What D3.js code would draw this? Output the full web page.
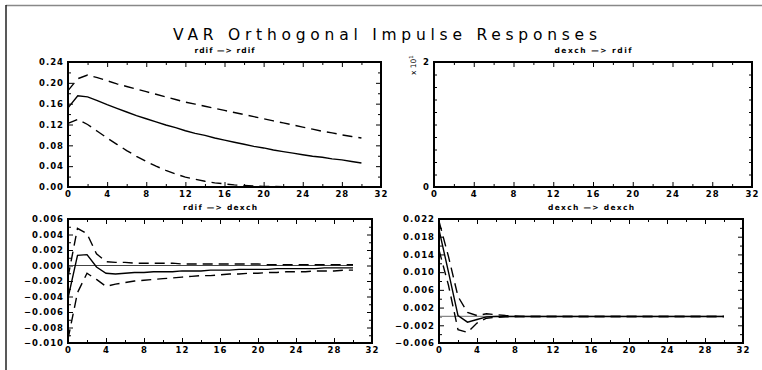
<!DOCTYPE html>
<html><head><meta charset="utf-8">
<script src="https://cdn.jsdelivr.net/npm/d3@7"></script>
<style>body{margin:0;background:#fff}svg{display:block}</style>
</head><body>
<svg id="c" width="762" height="370"></svg>
<script>
// ---------- data ----------
const title = "VAR Orthogonal Impulse Responses";
const panelTitles = ["rdif  \u2014>  rdif", "dexch  \u2014>  rdif", "rdif  \u2014>  dexch", "dexch  \u2014>  dexch"];
const steps = [0,1,2,3,4,5,6,7,8,9,10,11,12,13,14,15,16,17,18,19,20,21,22,23,24,25,26,27,28,29,30];
const xTicks = [0,4,8,12,16,20,24,28,32];

// rdif -> rdif
const rrMid = [0.152,0.175,0.173,0.166,0.158,0.151,0.144,0.137,0.131,0.125,0.119,0.114,0.108,0.103,0.099,0.094,0.090,0.086,0.082,0.078,0.075,0.071,0.068,0.065,0.062,0.059,0.057,0.054,0.052,0.049,0.046];
const rrUp  = [0.185,0.208,0.215,0.210,0.204,0.198,0.193,0.188,0.183,0.178,0.173,0.168,0.163,0.159,0.155,0.151,0.147,0.143,0.139,0.135,0.131,0.127,0.123,0.119,0.115,0.111,0.107,0.104,0.100,0.097,0.094];
const rrLo  = [0.122,0.130,0.120,0.107,0.094,0.082,0.070,0.059,0.049,0.040,0.032,0.025,0.019,0.015,0.011,0.008,0.006,0.004,0.003,0.002,0.001,0.001,0.0005,0.0003,0.0002,0.0001,0.0001,0,0,0,0];
const rrTicks = [0.00,0.04,0.08,0.12,0.16,0.20,0.24];

// dexch -> rdif (empty panel)
const drTicks = [0,2];

// rdif -> dexch
const rdMid = [-0.0042,0.0013,0.0014,-0.0002,-0.0010,-0.0011,-0.0010,-0.0009,-0.0009,-0.0008,-0.0008,-0.0008,-0.0007,-0.0007,-0.0007,-0.0006,-0.0006,-0.0006,-0.0005,-0.0005,-0.0005,-0.0005,-0.0004,-0.0004,-0.0004,-0.0004,-0.0004,-0.0003,-0.0003,-0.0003,-0.0003];
const rdUp  = [-0.0015,0.0048,0.0041,0.0015,0.0005,0.0004,0.0004,0.0003,0.0003,0.0003,0.0003,0.0003,0.0002,0.0002,0.0002,0.0002,0.0002,0.0002,0.0002,0.0002,0.0002,0.0001,0.0001,0.0001,0.0001,0.0001,0.0001,0.0001,0.0001,0.0001,0.0001];
const rdLo  = [-0.0095,-0.0035,-0.0010,-0.0018,-0.0027,-0.0024,-0.0022,-0.0020,-0.0019,-0.0018,-0.0017,-0.0016,-0.0015,-0.0014,-0.0013,-0.0013,-0.0012,-0.0011,-0.0011,-0.0010,-0.0010,-0.0009,-0.0009,-0.0008,-0.0008,-0.0008,-0.0007,-0.0007,-0.0007,-0.0006,-0.0006];
const rdTicks = [-0.010,-0.008,-0.006,-0.004,-0.002,0.000,0.002,0.004,0.006];

// dexch -> dexch
const ddMid = [0.0196,0.0100,0.0002,-0.0013,-0.0007,-0.0001,0.0000,0.0000,0.0000,0,0,0,0,0,0,0,0,0,0,0,0,0,0,0,0,0,0,0,0,0,0];
const ddUp  = [0.0215,0.0135,0.0045,0.0009,0.0002,0.0006,0.0004,0.0002,0.0001,0,0,0,0,0,0,0,0,0,0,0,0,0,0,0,0,0,0,0,0,0,0];
const ddLo  = [0.0150,0.0070,-0.0030,-0.0036,-0.0015,-0.0004,-0.0002,-0.0001,-0.0001,0,0,0,0,0,0,0,0,0,0,0,0,0,0,0,0,0,0,0,0,0,0];
const ddTicks = [-0.006,-0.002,0.002,0.006,0.010,0.014,0.018,0.022];

// ---------- layout ----------
const panels = [
  {title: panelTitles[0], tl:60, box:[68,381,62,187], dom:[0,0.24], ticks: rrTicks, fmt: d3.format(".2f"), minor:0.02, series:[rrMid,rrUp,rrLo], zero:false},
  {title: panelTitles[1], tl:77, box:[434,752,62,187], dom:[0,2], ticks: drTicks, fmt: d3.format("d"), minor:0.2, series:[], zero:false, exp:true},
  {title: panelTitles[2], tl:74, box:[68,372,219,343], dom:[-0.010,0.006], ticks: rdTicks, fmt: d3.format(".3f"), minor:0.001, series:[rdMid,rdUp,rdLo], zero:true, zc:"#444"},
  {title: panelTitles[3], tl:86, box:[439,743,219,343], dom:[-0.006,0.022], ticks: ddTicks, fmt: d3.format(".3f"), minor:0.002, series:[ddMid,ddUp,ddLo], zero:true, zc:"#888"}
];

const svg = d3.select("#c");
svg.append("rect").attr("width",762).attr("height",370).attr("fill","#fff");
// outer frame
svg.append("line").attr("x1",6).attr("x2",762).attr("y1",5.5).attr("y2",5.5).attr("stroke","#888").attr("stroke-width",1.5);
svg.append("line").attr("x1",6).attr("x2",6).attr("y1",5).attr("y2",370).attr("stroke","#222").attr("stroke-width",1.5);

svg.append("text").attr("x",385).attr("y",40).attr("text-anchor","middle")
  .attr("font-family","DejaVu Sans").attr("font-size",15.5).attr("font-weight","normal")
  .attr("textLength",424).attr("lengthAdjust","spacing").attr("fill","#000").text(title);

const lbl = {family:"DejaVu Sans", size:8.5};

panels.forEach((p,i)=>{
  const [x0,x1,y0,y1] = p.box;
  const x = d3.scaleLinear().domain([0,32]).range([x0,x1]);
  const y = d3.scaleLinear().domain(p.dom).range([y1,y0]);
  const g = svg.append("g");

  g.append("text").attr("x",(x0+x1)/2).attr("y",y0-9).attr("text-anchor","middle")
    .attr("font-family",lbl.family).attr("font-size",7.5).attr("font-weight","bold")
    .attr("textLength",p.tl).attr("lengthAdjust","spacing")
    .attr("fill","#000").text(p.title);

  // minor ticks
  const xMinor = d3.range(0,33,2).filter(v=>v%4!==0);
  const yMinor = d3.range(p.dom[0], p.dom[1]+1e-9, p.minor).filter(v=>!p.ticks.some(t=>Math.abs(t-v)<1e-9));

  const axB = d3.axisBottom(x).tickValues(xTicks).tickSize(-5).tickPadding(4).tickFormat(d3.format("d"));
  const axT = d3.axisTop(x).tickValues(xTicks).tickSize(-5).tickFormat("");
  const axL = d3.axisLeft(y).tickValues(p.ticks).tickSize(-5).tickPadding(4).tickFormat(p.fmt);
  const axR = d3.axisRight(y).tickValues(p.ticks).tickSize(-5).tickFormat("");
  const mB = d3.axisBottom(x).tickValues(xMinor).tickSize(-3).tickFormat("");
  const mT = d3.axisTop(x).tickValues(xMinor).tickSize(-3).tickFormat("");
  const mL = d3.axisLeft(y).tickValues(yMinor).tickSize(-3).tickFormat("");
  const mR = d3.axisRight(y).tickValues(yMinor).tickSize(-3).tickFormat("");

  const add = (ax, tr) => {
    const a = g.append("g").attr("transform",tr).call(ax);
    a.select(".domain").remove();
    a.selectAll(".tick line").attr("stroke","#000").attr("stroke-width",1);
    a.selectAll("text").attr("font-family",lbl.family).attr("font-size",lbl.size).attr("font-weight","bold")
      .attr("letter-spacing",1).attr("fill","#000");
    return a;
  };
  add(axB,`translate(0,${y1})`); add(axT,`translate(0,${y0})`);
  add(axL,`translate(${x0},0)`); add(axR,`translate(${x1},0)`);
  add(mB,`translate(0,${y1})`); add(mT,`translate(0,${y0})`);
  add(mL,`translate(${x0},0)`); add(mR,`translate(${x1},0)`);

  if (p.exp) {
    const t = g.append("text").attr("transform",`translate(${x0-18},${y0+13}) rotate(-90)`)
      .attr("font-family",lbl.family).attr("font-size",7.5).attr("fill","#000");
    t.append("tspan").text("x 10");
    t.append("tspan").attr("dy",-3).attr("font-size",5.5).text("1");
  }

  if (p.zero) {
    g.append("line").attr("x1",x(0)).attr("x2",x(30)).attr("y1",y(0)).attr("y2",y(0))
      .attr("stroke",p.zc).attr("stroke-width",1.2);
  }

  const line = d3.line().x((d,k)=>x(steps[k])).y(d=>y(d));
  p.series.forEach((s,k)=>{
    g.append("path").datum(s).attr("d",line).attr("fill","none").attr("stroke","#000")
      .attr("stroke-width",1.4).attr("stroke-dasharray", k===0 ? null : "10,6");
  });

  g.append("rect").attr("x",x0).attr("y",y0).attr("width",x1-x0).attr("height",y1-y0)
    .attr("fill","none").attr("stroke","#000").attr("stroke-width",2);
});
</script>
</body></html>
